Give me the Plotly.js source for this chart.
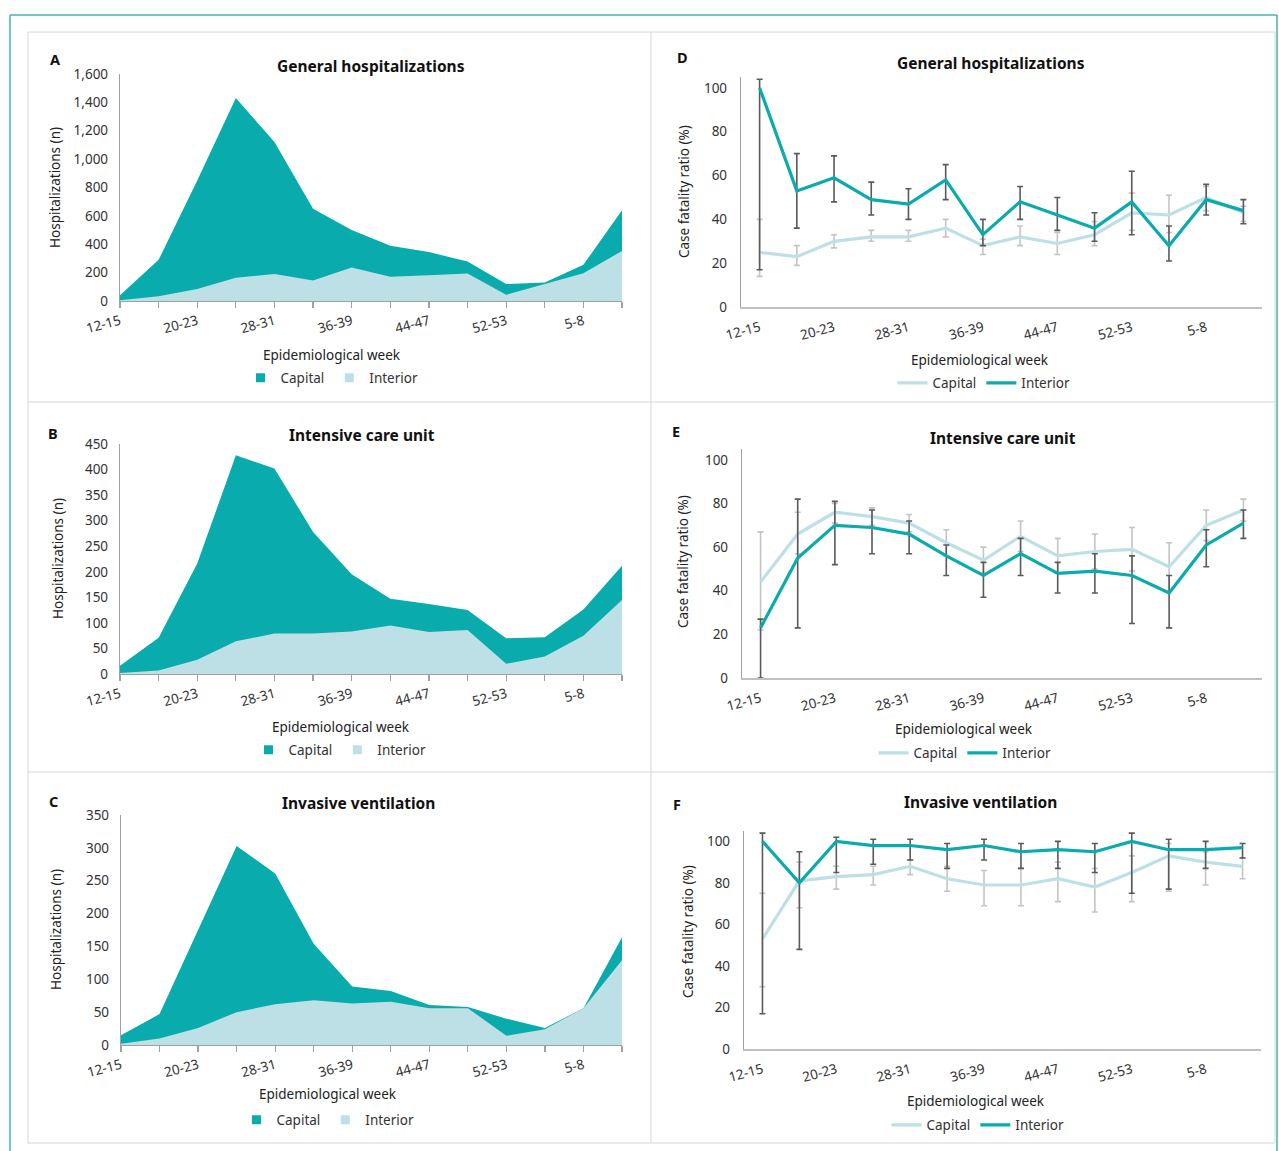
<!DOCTYPE html>
<html>
<head>
<meta charset="utf-8">
<script src="https://cdn.plot.ly/plotly-3.0.1.min.js"></script>
<style>
html,body{margin:0;padding:0;background:#fff;}
#chart{width:1279px;height:1151px;}
</style>
</head>
<body>
<div id="chart"></div>
<script>
// ---------- DATA ----------
const weeks = ['12-15','16-19','20-23','24-27','28-31','32-35','36-39','40-43','44-47','48-51','52-53','1-4','5-8','9-12'];

// A: General hospitalizations (n)
const genCapital  = [40,290,850,1430,1120,650,500,390,345,278,120,130,255,640];
const genInterior = [5,33,84,164,190,145,236,171,182,194,44,122,196,353];
// B: Intensive care unit (n)
const icuCapital  = [16,71,216,428,402,278,195,147,137,125,70,72,126,212];
const icuInterior = [2,7,28,64,79,79,83,95,82,86,20,34,75,145];
// C: Invasive ventilation (n)
const ivCapital   = [15,47,175,303,261,154,89,82,61,58,40,26,56,164];
const ivInterior  = [2,10,26,50,62,68,63,66,56,56,14,24,56,129];

// D: CFR general hospitalizations (%)
const cfrGenCapital     = [25,23,30,32,32,36,28,32,29,33,43,42,50,43];
const cfrGenCapitalHi   = [40,28,33,35,35,40,31,37,34,39,52,51,55,46];
const cfrGenCapitalLo   = [14,19,27,30,30,32,24,28,24,28,35,34,44,39];
const cfrGenInterior    = [100,53,59,49,47,58,33,48,42,36,48,28,49,44];
const cfrGenInteriorHi  = [104,70,69,57,54,65,40,55,50,43,62,37,56,49];
const cfrGenInteriorLo  = [17,36,48,42,40,49,28,40,35,30,33,21,42,38];
// E: CFR intensive care unit (%)
const cfrIcuCapital     = [44,66,76,74,71,62,54,65,56,58,59,51,70,77];
const cfrIcuCapitalHi   = [67,76,80,78,75,68,60,72,64,66,69,62,77,82];
const cfrIcuCapitalLo   = [22,57,71,70,67,56,48,58,48,50,49,40,63,72];
const cfrIcuInterior    = [23,55,70,69,66,56,47,57,48,49,47,39,61,71];
const cfrIcuInteriorHi  = [27,82,81,77,72,61,53,64,53,57,56,47,68,77];
const cfrIcuInteriorLo  = [0,23,52,57,57,47,37,47,39,39,25,23,51,64];
// F: CFR invasive ventilation (%)
const cfrIvCapital      = [53,81,83,84,88,82,79,79,82,78,85,93,90,88];
const cfrIvCapitalHi    = [75,90,88,88,91,88,86,87,90,87,93,99,95,92];
const cfrIvCapitalLo    = [30,68,77,79,84,76,69,69,71,66,71,76,79,82];
const cfrIvInterior     = [100,80,100,98,98,96,98,95,96,95,100,96,96,97];
const cfrIvInteriorHi   = [104,95,102,101,101,99,101,99,100,99,104,101,100,99];
const cfrIvInteriorLo   = [17,48,85,89,91,87,91,87,87,85,75,77,87,92];

const seriesNames = ['Capital','Interior'];
const tickText = weeks.map((w,i) => i % 2 === 0 ? w : '');

// ---------- STYLE ----------
const W = 1279, H = 1151;
const X = px => px / W;
const Y = py => 1 - py / H;
const DARK = '#0aabad';
const LIGHT = '#bde0e6';
const ERR_DARK = '#5a5a5a';
const ERR_LIGHT = '#c4c4c4';
const FONT = 'Noto Sans, Open Sans, sans-serif';
const TICK = 13.5;

const traces = [];

function areaPanel(n, capital, interior, legendId) {
  const xa = 'x' + (n === 1 ? '' : n), ya = 'y' + (n === 1 ? '' : n);
  traces.push({x: weeks, y: capital, type: 'scatter', mode: 'lines', fill: 'tozeroy',
    fillcolor: DARK, line: {width: 0, color: DARK}, xaxis: xa, yaxis: ya, showlegend: false, name: seriesNames[0]});
  traces.push({x: weeks, y: interior, type: 'scatter', mode: 'lines', fill: 'tozeroy',
    fillcolor: LIGHT, line: {width: 0, color: LIGHT}, xaxis: xa, yaxis: ya, showlegend: false, name: seriesNames[1]});
  // legend-only entries (square swatches)
  [[seriesNames[0], DARK], [seriesNames[1], LIGHT]].forEach(([nm, c]) => {
    traces.push({x: [null], y: [null], type: 'scatter', mode: 'markers', name: nm,
      marker: {symbol: 'square', size: 9, color: c}, xaxis: xa, yaxis: ya, legend: legendId, showlegend: true});
  });
}

function linePanel(n, cap, capHi, capLo, intr, intHi, intLo, legendId) {
  const xa = 'x' + n, ya = 'y' + n;
  traces.push({x: weeks, y: cap, type: 'scatter', mode: 'lines', name: seriesNames[0],
    line: {color: LIGHT, width: 3.2}, xaxis: xa, yaxis: ya, legend: legendId,
    error_y: {type: 'data', symmetric: false, array: capHi.map((v,i) => v - cap[i]),
      arrayminus: cap.map((v,i) => v - capLo[i]), color: ERR_LIGHT, thickness: 1.6, width: 3}});
  traces.push({x: weeks, y: intr, type: 'scatter', mode: 'lines', name: seriesNames[1],
    line: {color: DARK, width: 3.2}, xaxis: xa, yaxis: ya, legend: legendId,
    error_y: {type: 'data', symmetric: false, array: intHi.map((v,i) => v - intr[i]),
      arrayminus: intr.map((v,i) => v - intLo[i]), color: ERR_DARK, thickness: 1.6, width: 3}});
}

areaPanel(1, genCapital, genInterior, 'legend');
areaPanel(2, icuCapital, icuInterior, 'legend2');
areaPanel(3, ivCapital, ivInterior, 'legend3');
linePanel(4, cfrGenCapital, cfrGenCapitalHi, cfrGenCapitalLo, cfrGenInterior, cfrGenInteriorHi, cfrGenInteriorLo, 'legend4');
linePanel(5, cfrIcuCapital, cfrIcuCapitalHi, cfrIcuCapitalLo, cfrIcuInterior, cfrIcuInteriorHi, cfrIcuInteriorLo, 'legend5');
linePanel(6, cfrIvCapital, cfrIvCapitalHi, cfrIvCapitalLo, cfrIvInterior, cfrIvInteriorHi, cfrIvInteriorLo, 'legend6');

function xAxisLeft(x0, x1, anchor) {
  return {domain: [X(x0), X(x1)], anchor: anchor, type: 'category', range: [0, weeks.length - 1],
    tickmode: 'array', tickvals: weeks, ticktext: tickText, tickangle: -15,
    ticks: 'outside', ticklen: 6, tickcolor: '#a0a0a0', tickwidth: 1.2,
    showline: true, linecolor: '#a0a0a0', linewidth: 1.2, showgrid: false, zeroline: false,
    tickfont: {family: FONT, size: TICK, color: '#333'}, fixedrange: true};
}
function yAxisLeft(y0, y1, maxv, dtick, anchor) {
  return {domain: [Y(y1), Y(y0)], anchor: anchor, range: [0, maxv], dtick: dtick, tickformat: ',d',
    showline: true, linecolor: '#a0a0a0', linewidth: 1.2, showgrid: false, zeroline: false, ticks: '',
    ticklabelstandoff: 8, tickfont: {family: FONT, size: TICK, color: '#333'}, fixedrange: true};
}
function xAxisRight(x0, x1, anchor) {
  return {domain: [X(x0), X(x1)], anchor: anchor, type: 'category', range: [-0.5, weeks.length - 0.5],
    tickmode: 'array', tickvals: weeks, ticktext: tickText, tickangle: -15, ticks: '',
    showline: true, linecolor: '#c0c0c0', linewidth: 1.8, showgrid: false, zeroline: false,
    ticklabelstandoff: 6, tickfont: {family: FONT, size: TICK, color: '#333'}, fixedrange: true};
}
function yAxisRight(y0, y1, anchor) {
  return {domain: [Y(y1), Y(y0)], anchor: anchor, range: [0, 105], tickvals: [0,20,40,60,80,100],
    showline: true, linecolor: '#a0a0a0', linewidth: 1.2, showgrid: false, zeroline: false, ticks: '',
    ticklabelstandoff: 10, tickfont: {family: FONT, size: TICK, color: '#333'}, fixedrange: true};
}

function legendAt(px, py) {
  return {x: X(px), y: Y(py), xanchor: 'center', yanchor: 'middle', orientation: 'h',
    font: {family: FONT, size: 13.5, color: '#333'}, bgcolor: 'rgba(0,0,0,0)', itemwidth: 30,
    tracegroupgap: 0, itemclick: false, itemdoubleclick: false};
}

const annotations = [];
function txt(t, px, py, opts) {
  annotations.push(Object.assign({text: t, x: X(px), y: Y(py), xref: 'paper', yref: 'paper',
    showarrow: false, xanchor: 'center', yanchor: 'middle',
    font: {family: FONT, size: 13.5, color: '#222'}}, opts || {}));
}
const boldF = s => ({family: FONT, size: s, color: '#111', weight: 700});

// Panel letters
[['A',55,59],['B',53,433],['C',53,801],['D',682,57],['E',676,431],['F',677,804]].forEach(([t,x,y]) =>
  txt('<b>'+t+'</b>', x, y, {font: boldF(14.5)}));
// Panel titles
[['General hospitalizations',371,66],['Intensive care unit',362,435],['Invasive ventilation',358,803],
 ['General hospitalizations',991,63],['Intensive care unit',1003,438],['Invasive ventilation',981,802]].forEach(([t,x,y]) =>
  txt('<b>'+t+'</b>', x, y, {font: boldF(15.5)}));
// Y titles
[['Hospitalizations (n)',55,188],['Hospitalizations (n)',58,558],['Hospitalizations (n)',56,930],
 ['Case fatality ratio (%)',684,192],['Case fatality ratio (%)',683,562],['Case fatality ratio (%)',688,932]].forEach(([t,x,y]) =>
  txt(t, x, y, {textangle: -90}));
// X titles
[[332,355],[341,727],[328,1094],[980,360],[964,729],[976,1101]].forEach(([x,y]) =>
  txt('Epidemiological week', x, y));

const shapes = [];
function line(x0,y0,x1,y1,color,w){shapes.push({type:'line',xref:'paper',yref:'paper',x0:X(x0),y0:Y(y0),x1:X(x1),y1:Y(y1),line:{color:color,width:w}});}
// teal outer frame
line(10,15,10,1151,'#3cb8b2',1.5);
line(10,15,1277,15,'#3cb8b2',1.5);
line(1277,15,1277,1151,'#3cb8b2',1.5);
// panel borders
const G = '#d6d6d6';
line(28,32,1275,32,G,1);
line(28,32,28,1143,G,1);
line(1275,32,1275,1143,G,1);
line(28,1143,1275,1143,G,1);
line(651,32,651,1143,G,1);
line(28,402,1275,402,G,1);
line(28,772,1275,772,G,1);

const layout = {
  width: W, height: H, margin: {l: 0, r: 0, t: 0, b: 0},
  paper_bgcolor: '#fff', plot_bgcolor: 'rgba(0,0,0,0)',
  font: {family: FONT, color: '#333'},
  showlegend: true, hovermode: false,
  xaxis:  xAxisLeft(120, 622, 'y'),
  yaxis:  yAxisLeft(74, 301, 1600, 200, 'x'),
  xaxis2: xAxisLeft(120, 622, 'y2'),
  yaxis2: yAxisLeft(444, 674, 450, 50, 'x2'),
  xaxis3: xAxisLeft(121, 622, 'y3'),
  yaxis3: yAxisLeft(815, 1045, 350, 50, 'x3'),
  xaxis4: xAxisRight(741, 1262, 'y4'),
  yaxis4: yAxisRight(77, 307, 'x4'),
  xaxis5: xAxisRight(742, 1262, 'y5'),
  yaxis5: yAxisRight(449, 678, 'x5'),
  xaxis6: xAxisRight(744, 1261, 'y6'),
  yaxis6: yAxisRight(831, 1049, 'x6'),
  legend:  legendAt(332, 378),
  legend2: legendAt(340, 750),
  legend3: legendAt(328, 1120),
  legend4: legendAt(984, 383),
  legend5: legendAt(965, 753),
  legend6: legendAt(978, 1125),
  annotations: annotations,
  shapes: shapes
};

Plotly.newPlot('chart', traces, layout, {displayModeBar: false, staticPlot: true});
</script>
</body>
</html>
